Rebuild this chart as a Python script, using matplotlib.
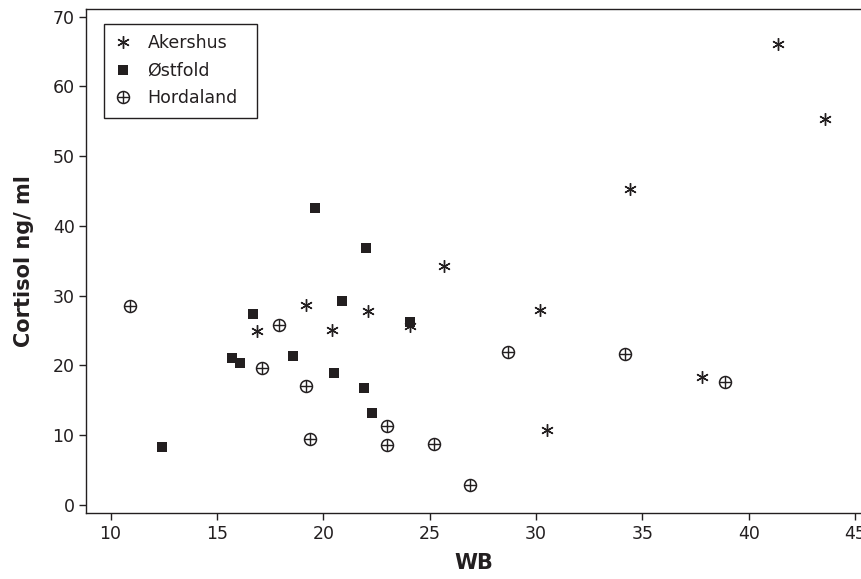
import matplotlib
matplotlib.use("Agg")
import matplotlib.pyplot as plt
from matplotlib.legend_handler import HandlerTuple

# values
akershus_wb = [16.9, 19.2, 20.4, 22.1, 24.1, 25.7, 30.2, 30.5, 34.4, 37.8, 41.4, 43.6]
akershus_cortisol = [24.9, 28.7, 25.1, 27.8, 25.6, 34.3, 27.9, 10.7, 45.3, 18.3, 66.1, 55.4]

ostfold_wb = [12.4, 15.7, 16.1, 16.7, 18.6, 19.6, 20.5, 20.9, 21.9, 22.0, 22.3, 24.1]
ostfold_cortisol = [8.3, 21.1, 20.4, 27.4, 21.4, 42.5, 18.9, 29.2, 16.8, 36.8, 13.2, 26.3]

hordaland_wb = [10.9, 17.1, 17.9, 19.2, 19.4, 23.0, 23.0, 25.2, 26.9, 28.7, 34.2, 38.9]
hordaland_cortisol = [28.5, 19.7, 25.8, 17.0, 9.5, 11.3, 8.6, 8.8, 2.8, 21.9, 21.6, 17.6]

x_ticks = [10, 15, 20, 25, 30, 35, 40, 45]
y_ticks = [0, 10, 20, 30, 40, 50, 60, 70]

ink = "#231f20"
plt.rcParams["font.family"] = "DejaVu Sans"

fig = plt.figure(figsize=(8.62, 5.79), dpi=100)
ax = fig.add_axes([0.0994, 0.114, 0.9006, 0.870])

ast, = ax.plot(akershus_wb, akershus_cortisol, linestyle="none",
               marker=(6, 2, 0), markersize=9, markeredgewidth=1.0,
               color=ink)
sq, = ax.plot(ostfold_wb, ostfold_cortisol, linestyle="none",
              marker="s", markersize=7.4, color=ink, markeredgewidth=0)
circ, = ax.plot(hordaland_wb, hordaland_cortisol, linestyle="none",
                marker="o", markersize=8.6, markerfacecolor="none",
                markeredgecolor=ink, markeredgewidth=1.1)
plus, = ax.plot(hordaland_wb, hordaland_cortisol, linestyle="none",
                marker="+", markersize=8.6, color=ink, markeredgewidth=1.0)

ax.set_xlim(8.83, 45.33)
ax.set_ylim(-1.15, 71.06)
ax.set_xticks(x_ticks)
ax.set_yticks(y_ticks)

ax.spines["right"].set_visible(False)
for s in ["left", "bottom", "top"]:
    ax.spines[s].set_color(ink)
    ax.spines[s].set_linewidth(1.0)
ax.tick_params(direction="out", length=5, width=1, color=ink,
               labelcolor=ink, labelsize=12.5, pad=4)
ax.tick_params(axis="y", pad=3)

ax.set_xlabel("WB", fontsize=15, fontweight="bold", color=ink, labelpad=7)
ax.set_ylabel("Cortisol ng/ ml", fontsize=15, fontweight="bold", color=ink,
              labelpad=13)

# legend box stretched to the reference width
leg = ax.legend([ast, sq, (circ, plus)], ["Akershus", "Østfold", "Hordaland"],
                handler_map={tuple: HandlerTuple(ndivide=1, pad=0)},
                loc="upper left", bbox_to_anchor=(0.0236, 0.5, 0.197, 0.471),
                mode="expand", borderaxespad=0, fancybox=False, framealpha=1,
                edgecolor=ink, fontsize=12.5, handlelength=1.0,
                handletextpad=0.9, labelspacing=0.55, borderpad=0.6)
leg.get_frame().set_linewidth(1.0)
for t in leg.get_texts():
    t.set_color(ink)

fig.savefig("out.png", dpi=100)
